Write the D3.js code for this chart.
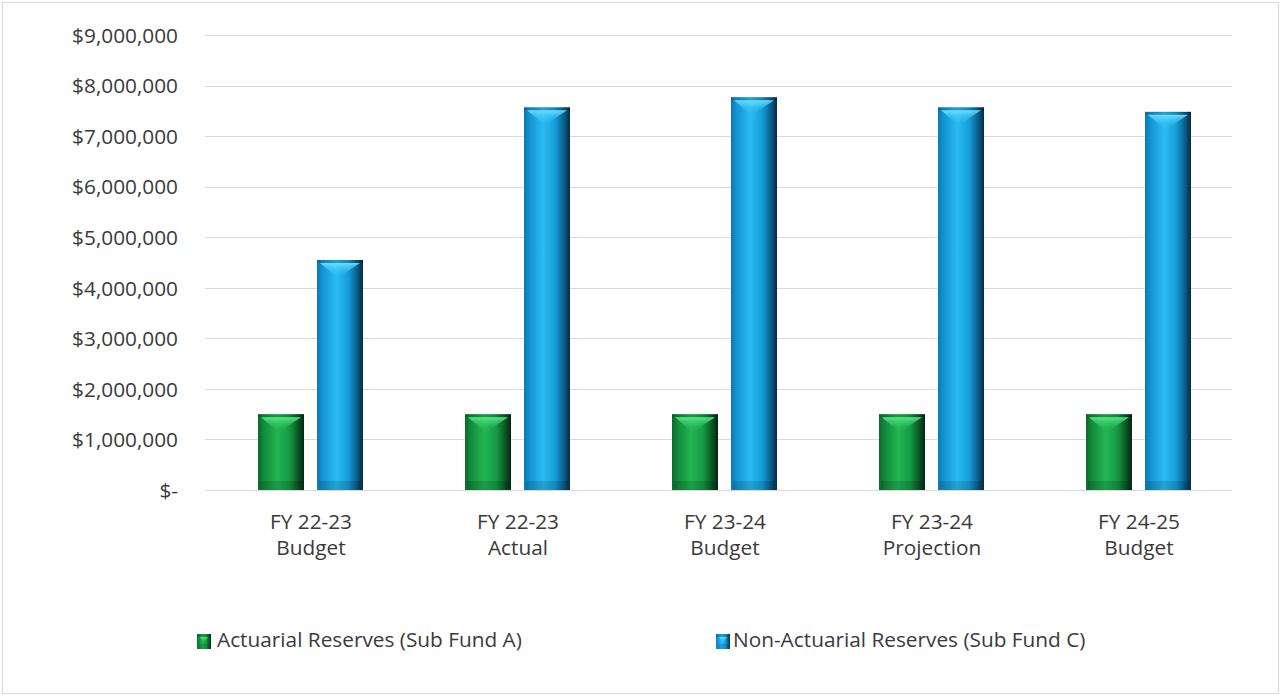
<!DOCTYPE html>
<html><head><meta charset="utf-8">
<script src="https://cdn.jsdelivr.net/npm/d3@7"></script>
<style>
html,body{margin:0;padding:0;background:#fff;}
svg text{font-family:"Open Sans","Noto Sans",sans-serif;fill:#3a3a3a;}
</style></head><body>
<svg id="c" width="1281" height="696"></svg>
<script>
const categories = [["FY 22-23","Budget"],["FY 22-23","Actual"],["FY 23-24","Budget"],["FY 23-24","Projection"],["FY 24-25","Budget"]];
const seriesNames = ["Actuarial Reserves (Sub Fund A)","Non-Actuarial Reserves (Sub Fund C)"];
const actuarial = [1500000,1500000,1500000,1500000,1500000];
const nonActuarial = [4550000,7570000,7770000,7570000,7480000];
const yTicks = [0,1000000,2000000,3000000,4000000,5000000,6000000,7000000,8000000,9000000];

const FS = 20.8;
const svg = d3.select("#c");
svg.append("rect").attr("x",2.5).attr("y",2.5).attr("width",1276).attr("height",691)
  .attr("fill","#fff").attr("stroke","#d9d9d9");

const defs = svg.append("defs");
function grad(id, stops, vertical){
  const g = defs.append("linearGradient").attr("id",id).attr("x1","0").attr("y1","0")
    .attr("x2",vertical?"0":"1").attr("y2",vertical?"1":"0");
  stops.forEach(s=>g.append("stop").attr("offset",s[0]).attr("stop-color",s[1]).attr("stop-opacity",s[2]===undefined?1:s[2]));
}
grad("gGreen",[[0,"#0b6a2c"],[0.12,"#128a3a"],[0.42,"#22b553"],[0.68,"#169a44"],[0.88,"#0a5424"],[1,"#042514"]]);
grad("gBlue",[[0,"#0c78b4"],[0.12,"#1394d2"],[0.42,"#2abbf2"],[0.68,"#159dd8"],[0.88,"#0b5a86"],[1,"#062a40"]]);
grad("gHiG",[[0,"#5cf08e",0.9],[1,"#22b553",0]],true);
grad("gHiB",[[0,"#70e4ff",0.9],[1,"#2abbf2",0]],true);
const colors = ["url(#gGreen)","url(#gBlue)"];
const hiColors = ["url(#gHiG)","url(#gHiB)"];

const x = d3.scaleBand().domain(d3.range(categories.length)).range([207.5,1242.5]).paddingInner(0).paddingOuter(0);
const y = d3.scaleLinear().domain([0,9000000]).range([490,35]);

// gridlines
svg.append("g").selectAll("line").data(yTicks).join("line")
  .attr("x1",205).attr("x2",1232).attr("y1",d=>Math.round(y(d))+0.5).attr("y2",d=>Math.round(y(d))+0.5)
  .attr("stroke","#d9d9d9").attr("stroke-width",1);

// y axis labels
const fmt = d => d===0 ? "$-" : "$" + d3.format(",")(d);
const yAxis = d3.axisLeft(y).tickValues(yTicks).tickFormat(fmt).tickSize(0).tickPadding(0);
const ya = svg.append("g").attr("transform","translate(178,0)").call(yAxis);
ya.select(".domain").remove();
ya.selectAll("text").attr("font-size",FS).attr("fill","#3a3a3a").attr("dy","0.35em")
  .style("font-family",'"Open Sans","Noto Sans",sans-serif');

function drawBar(g, bx, top, w, h, si){
  g.append("rect").attr("x",bx).attr("y",top).attr("width",w).attr("height",h).attr("fill",colors[si]);
  g.append("rect").attr("x",bx).attr("y",top).attr("width",w).attr("height",Math.min(3,h)).attr("fill","#000").attr("opacity",0.15);
  g.append("path").attr("d",`M${bx+3},${top+3} L${bx+w-3},${top+3} L${bx+w*0.45},${top+Math.min(18,h*0.6)} Z`)
    .attr("fill",hiColors[si]);
  g.append("rect").attr("x",bx+2).attr("y",top+h-Math.min(9,h/3)).attr("width",w-4).attr("height",Math.min(9,h/3))
    .attr("fill","#000").attr("opacity",0.13);
}

// bars
const barW = 46;
const offsets = [-53, 6];
const series = [actuarial, nonActuarial];
series.forEach((vals,si)=>{
  const g = svg.append("g");
  vals.forEach((v,i)=>{
    const cx = x(i) + x.bandwidth()/2;
    drawBar(g, cx + offsets[si], y(v), barW, y(0)-y(v), si);
  });
});

// x labels
const xl = svg.append("g");
categories.forEach((c,i)=>{
  const cx = x(i)+x.bandwidth()/2;
  const t = xl.append("text").attr("x",cx).attr("y",529).attr("text-anchor","middle").attr("font-size",FS);
  t.append("tspan").attr("x",cx).attr("dy",0).text(c[0]);
  t.append("tspan").attr("x",cx).attr("dy",26).text(c[1]);
});

// legend
const legX = [197, 716];
seriesNames.forEach((n,i)=>{
  const lg = svg.append("g");
  drawBar(lg, legX[i], 634, 14, 15, i);
  svg.append("text").attr("x",legX[i]+(i===0?20:17)).attr("y",647).attr("font-size",FS).text(n);
});
</script>
</body></html>
